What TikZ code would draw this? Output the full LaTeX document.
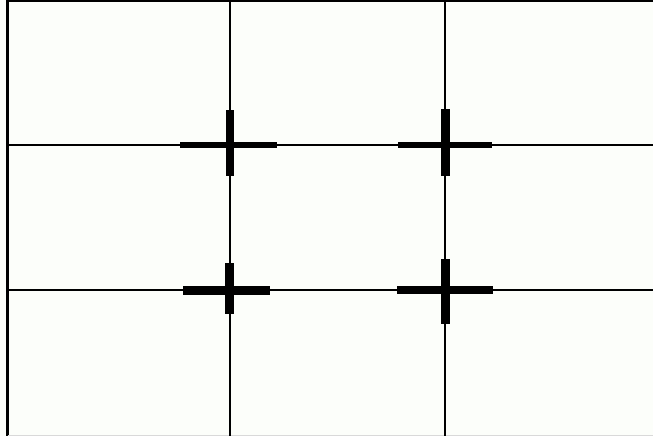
\documentclass[tikz,border=0pt]{standalone}
\definecolor{bgpaper}{HTML}{FCFEFA}
\tikzset{
  gridline/.style={line width=2.5pt, black},
  edgeline/.style={line width=2.5pt, black},
  crossbar/.style={line cap=butt, black}
}
\begin{document}
\begin{tikzpicture}[x=1pt,y=-1pt]
\useasboundingbox (0,0) rectangle (653,436);
\fill[bgpaper] (0,0) rectangle (653,436);
% coordinates
\coordinate (tl) at (7.5,0.8);
\coordinate (tr) at (653,0.8);
\coordinate (bl) at (7.5,436);
\coordinate (v1t) at (230,0);
\coordinate (v1b) at (230,436);
\coordinate (v2t) at (445,0);
\coordinate (v2b) at (445,436);
\coordinate (h1l) at (7.5,145);
\coordinate (h1r) at (653,145);
\coordinate (h2l) at (7.5,290);
\coordinate (h2r) at (653,290);
% frame
\draw[edgeline] (tr) -- (tl) -- (bl);
\draw[gray!30, line width=0.8pt] (7.5,435.6) -- (653,435.6);
% thirds
\draw[gridline] (v1t) -- (v1b);
\draw[gridline] (v2t) -- (v2b);
\draw[gridline] (h1l) -- (h1r);
\draw[gridline] (h2l) -- (h2r);
% crosses
\draw[crossbar, line width=8pt] (230,110) -- (230,176);
\draw[crossbar, line width=6pt] (180,145) -- (277,145);
\draw[crossbar, line width=9pt] (445,109) -- (445,176);
\draw[crossbar, line width=6pt] (398,145) -- (492,145);
\draw[crossbar, line width=9pt] (229,263) -- (229,314);
\draw[crossbar, line width=9pt] (183,290.5) -- (270,290.5);
\draw[crossbar, line width=9pt] (445.5,259) -- (445.5,324);
\draw[crossbar, line width=8pt] (397,290) -- (493,290);
\end{tikzpicture}
\end{document}
